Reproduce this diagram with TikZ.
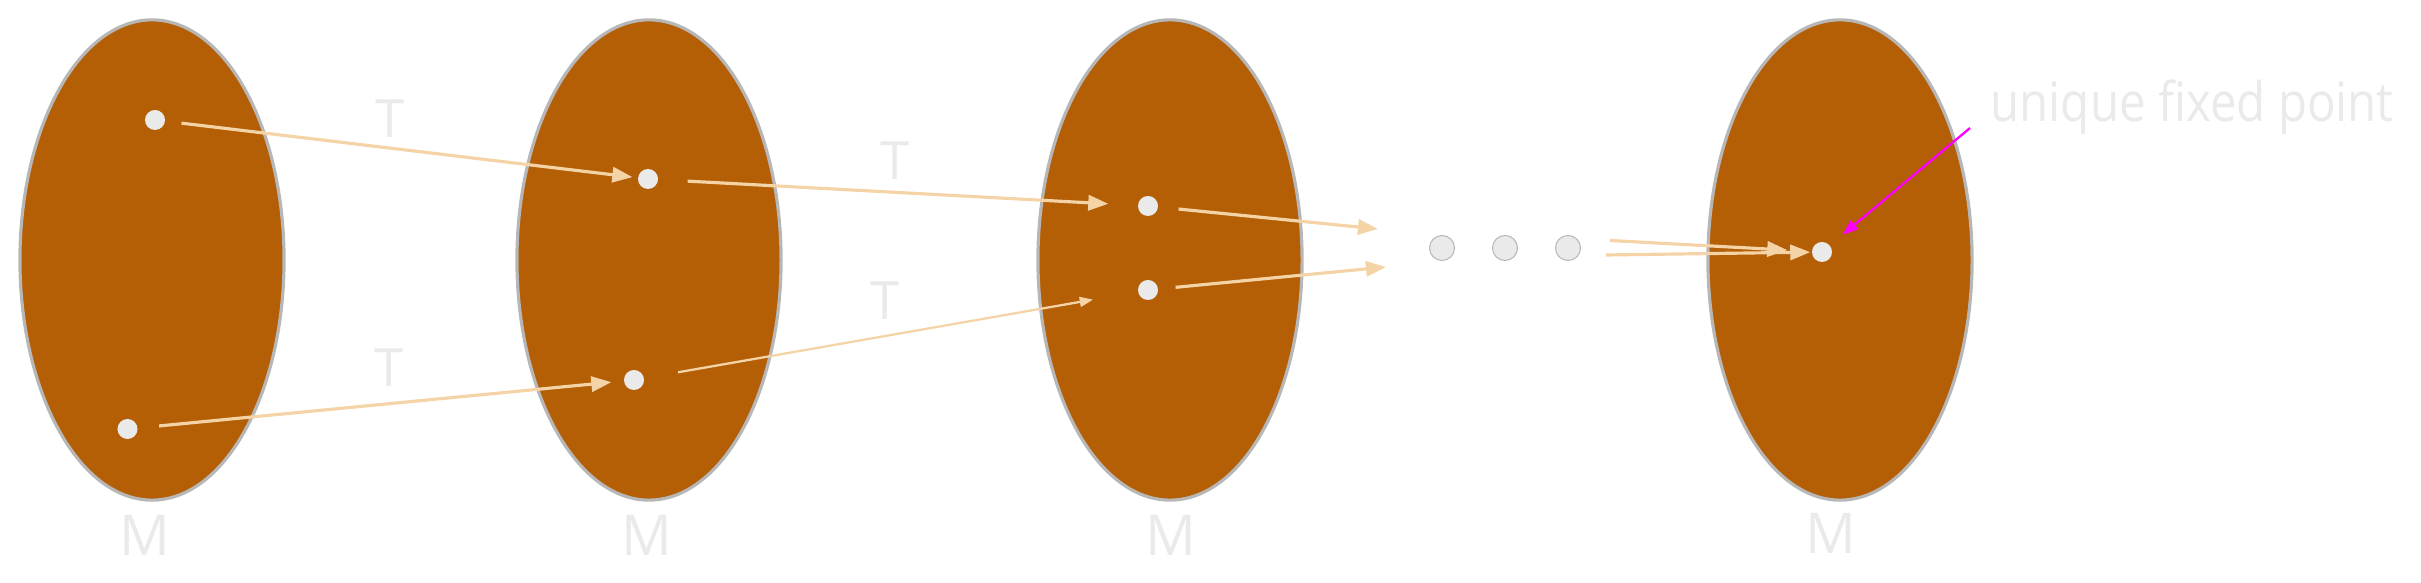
\documentclass[tikz,border=0pt]{standalone}
\usepackage{fontspec}
\setmainfont{Open Sans}
\usetikzlibrary{shapes.geometric,arrows.meta}
\definecolor{setfill}{HTML}{B45F06}
\definecolor{setedge}{HTML}{B7B7B7}
\definecolor{dotfill}{HTML}{EAEAEA}
\definecolor{peach}{HTML}{F4D4A6}
\definecolor{txt}{HTML}{EAEAEA}
\definecolor{mag}{HTML}{FF00FF}
\begin{document}
\begin{tikzpicture}[x=0.01cm,y=-0.01cm,
  setshape/.style={ellipse, draw=setedge, line width=0.9pt, fill=setfill, inner sep=0pt, minimum width=2.64cm, minimum height=4.8cm},
  pt/.style={circle, fill=dotfill, inner sep=0pt, minimum size=0.2cm},
  edot/.style={circle, fill=dotfill, draw=setedge, line width=0.3pt, inner sep=0pt, minimum size=0.25cm},
  lbl/.style={text=txt, font=\fontsize{16}{16}\selectfont, inner sep=0pt},
  tlbl/.style={text=txt, font=\fontsize{15}{15}\selectfont, inner sep=0pt},
  conn/.style={draw=peach, line width=0.9pt, -{Triangle[length=5.7pt,width=4.3pt]}},
  thinconn/.style={draw=peach, line width=0.65pt, -{Triangle[length=3.8pt,width=2.8pt]}},
  magarrow/.style={draw=mag, line width=0.65pt, -{Triangle[length=4.5pt,width=3.2pt]}}
]
\useasboundingbox (0,0) rectangle (2421,583);
% sets
\node[setshape] (s1) at (152,260) {};
\node[setshape] (s2) at (649,260) {};
\node[setshape] (s3) at (1170,260) {};
\node[setshape] (s4) at (1840,260) {};
% points
\node[pt] (p1a) at (155,120) {};
\node[pt] (p1b) at (127.5,429) {};
\node[pt] (p2a) at (648,179) {};
\node[pt] (p2b) at (634,380) {};
\node[pt] (p3a) at (1148,206) {};
\node[pt] (p3b) at (1148,290) {};
\node[pt] (p4) at (1822,252) {};
% ellipsis dots
\node[edot] (d1) at (1442,248) {};
\node[edot] (d2) at (1505,248) {};
\node[edot] (d3) at (1568,248) {};
% labels
\node[lbl] (m1) at (145,535) {M};
\node[lbl] (m2) at (647,535) {M};
\node[lbl] (m3) at (1171,535) {M};
\node[lbl] (m4) at (1831,533) {M};
\node[tlbl] (t1) at (390,119) {T};
\node[tlbl] (t2) at (389,368) {T};
\node[tlbl] (t3) at (895,161) {T};
\node[tlbl] (t4) at (885,301) {T};
\node[text=txt, font=\fontsize{15.5}{15.5}\selectfont, inner sep=0pt, anchor=base west] (ufp) at (1990,122) {\scalebox{0.87}[1]{unique fixed point}};
% free ends
\coordinate (e1) at (1378,229);
\coordinate (e2) at (1386,267);
\coordinate (c1) at (1610,240.5);
\coordinate (c2) at (1606,255);
\coordinate (ms) at (1970,128);
% connectors
\draw[conn, shorten <=0.16cm, shorten >=0.05cm] (p1a) -- (p2a);
\draw[conn, shorten <=0.21cm, shorten >=0.12cm] (p1b) -- (p2b);
\draw[conn, shorten <=0.29cm, shorten >=0.29cm] (p2a) -- (p3a);
\draw[thinconn, shorten <=0.34cm, shorten >=0.45cm] (p2b) -- (p3b);
\draw[conn, shorten <=0.20cm] (p3a) -- (e1);
\draw[conn, shorten <=0.17cm] (p3b) -- (e2);
\draw[conn, shorten >=0.24cm] (c1) -- (p4);
\draw[conn, shorten >=0.01cm] (c2) -- (p4);
\draw[magarrow, shorten >=0.16cm] (ms) -- (p4);
\end{tikzpicture}
\end{document}
